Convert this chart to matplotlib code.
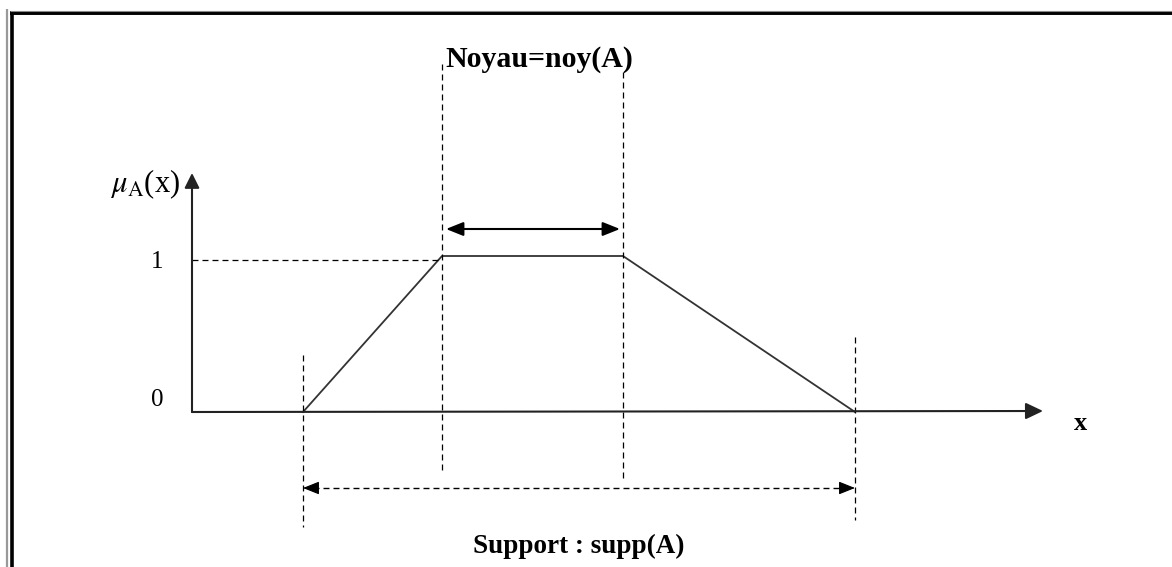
import matplotlib
matplotlib.use("Agg")
import matplotlib.pyplot as plt

plt.rcParams['lines.scale_dashes'] = False
plt.rcParams['mathtext.fontset'] = 'stix'

# ---- data (trapezoidal membership function) ----
x_points = [1.11, 2.50, 4.31, 6.63]     # a, b, c, d  (support start, core start, core end, support end)
mu_points = [0.0, 1.0, 1.0, 0.0]
y_ticks = [0, 1]
y_tick_labels = ["0", "1"]
core_label = "Noyau=noy(A)"
support_label = "Support : supp(A)"
y_label = r"$\mu_{\mathrm{A}}$(x)"
x_label = "x"

W, H = 1172, 567
fig = plt.figure(figsize=(W / 100, H / 100), dpi=100)
ax = fig.add_axes([0, 0, 1, 1])

# pixel layout -> data scale
X0, XS = 192, 100.0     # pixel of x=0, pixels per x unit
Y0, YS = 412, 156.0     # pixel of mu=0, pixels per mu unit
def px(p):
    return (p - X0) / XS
def py(p):
    return (Y0 - p) / YS

ax.set_xlim(px(0), px(W))
ax.set_ylim(py(H), py(0))
ax.axis('off')

serif = ['Liberation Serif', 'DejaVu Serif']
dash = (0, (4.3, 2.9))
k = 'black'

# frame
ax.plot([px(7), px(7)], [py(9), py(H)], color='#999999', lw=1.6, solid_capstyle='butt')
ax.plot([px(11.5), px(11.5)], [py(11), py(H)], color='black', lw=2.6, solid_capstyle='butt')
ax.plot([px(10), px(W)], [py(12.5), py(12.5)], color='black', lw=2.8, solid_capstyle='butt')
ax.plot([px(10), px(W)], [py(10.5), py(10.5)], color='#888888', lw=0.8, solid_capstyle='butt')

# axes arrows
ax.annotate('', xy=(0, py(173)), xytext=(0, 0),
            arrowprops=dict(arrowstyle='-|>,head_length=0.9,head_width=0.45', color='#222222',
                            lw=1.5, mutation_scale=10, shrinkA=0, shrinkB=0))
ax.annotate('', xy=(px(1043), py(411)), xytext=(0, 0),
            arrowprops=dict(arrowstyle='-|>,head_length=1.05,head_width=0.5', color='#222222',
                            lw=1.5, mutation_scale=10, shrinkA=0, shrinkB=0))

# membership function
ax.plot(x_points, mu_points, color='#333333', lw=1.3)

a, b, c, d = x_points
# dashed guides
ax.plot([0, b], [py(260), py(260)], color=k, lw=0.9, linestyle=dash)
ax.plot([b, b], [py(64), py(472)], color=k, lw=0.9, linestyle=dash)
ax.plot([c, c], [py(72), py(479)], color=k, lw=0.9, linestyle=dash)
ax.plot([a, a], [py(355), py(527)], color=k, lw=0.9, linestyle=dash)
ax.plot([d, d], [py(337), py(520)], color=k, lw=0.9, linestyle=dash)

# core arrow
ax.annotate('', xy=(c - 0.03, py(229)), xytext=(b + 0.04, py(229)),
            arrowprops=dict(arrowstyle='<|-|>,head_length=1.05,head_width=0.42', color='black',
                            lw=1.5, mutation_scale=10, shrinkA=0, shrinkB=0))

# support arrow (dashed shaft + solid heads)
ys = py(488)
ax.plot([a + 0.1, d - 0.1], [ys, ys], color=k, lw=1.0, linestyle=dash)
ax.annotate('', xy=(a, ys), xytext=(a + 0.12, ys),
            arrowprops=dict(arrowstyle='-|>,head_length=1.0,head_width=0.4', color='black',
                            lw=0.8, mutation_scale=10, shrinkA=0, shrinkB=0))
ax.annotate('', xy=(d, ys), xytext=(d - 0.12, ys),
            arrowprops=dict(arrowstyle='-|>,head_length=1.0,head_width=0.4', color='black',
                            lw=0.8, mutation_scale=10, shrinkA=0, shrinkB=0))

# texts
ax.text(b + 0.03, py(67), core_label, fontsize=21.5, fontweight='bold',
        family=serif, ha='left', va='baseline')
ax.text((a + d) / 2, py(553), support_label, fontsize=19.5, fontweight='bold',
        family=serif, ha='center', va='baseline')
ax.text(px(1081), py(424), x_label, fontsize=19, fontweight='bold',
        family=serif, ha='center', va='center')
tick_offsets_px = [-12, 6]
for t, lab, off in zip(y_ticks, y_tick_labels, tick_offsets_px):
    ax.text(px(157), t - off / YS, lab, fontsize=18, family=serif, ha='center', va='center')
ax.text(px(180), py(184), y_label, fontsize=22, family=serif, ha='right', va='center')

fig.savefig('out.png', dpi=100)
